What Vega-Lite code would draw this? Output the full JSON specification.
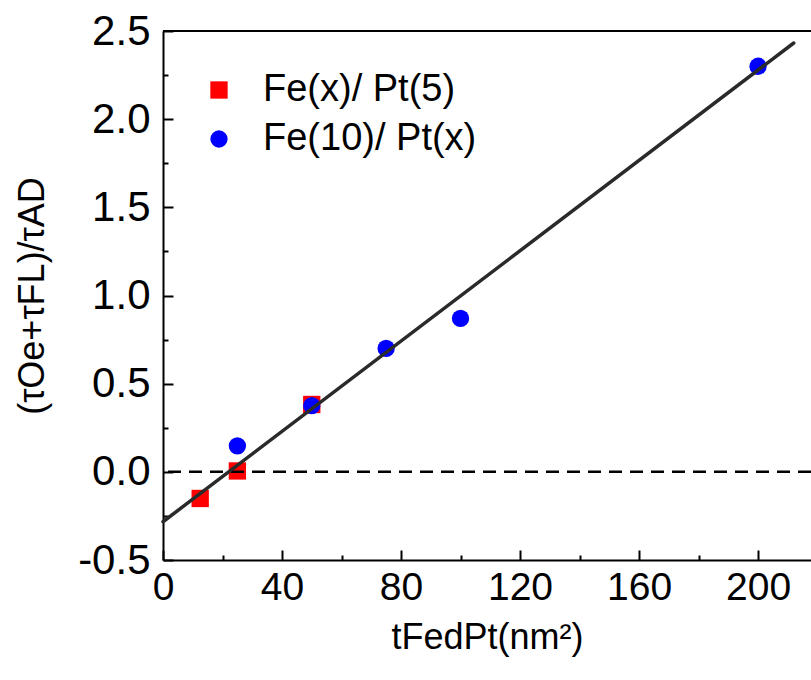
{
  "$schema": "https://vega.github.io/schema/vega-lite/v6.json",
  "width": 648,
  "height": 529,
  "autosize": {"type": "none"},
  "padding": {"left": 163, "top": 31, "right": 0, "bottom": 120},
  "background": "white",
  "config": {
    "view": {"stroke": "black", "strokeWidth": 2, "strokeDash": [648, 4000]},
    "font": "Liberation Sans",
    "axis": {
      "grid": false,
      "domainColor": "black",
      "domainWidth": 2,
      "tickColor": "black",
      "tickWidth": 2,
      "labelColor": "black",
      "titleColor": "black",
      "labelFont": "Liberation Sans",
      "titleFont": "Liberation Sans",
      "titleFontWeight": "normal"
    }
  },
  "resolve": {"axis": {"x": "independent", "y": "independent"}},
  "layer": [
    {
      "data": {
        "values": [
          {"series": "Fe(x)/ Pt(5)", "x": 12.5, "y": -0.151},
          {"series": "Fe(x)/ Pt(5)", "x": 25, "y": 0.005},
          {"series": "Fe(x)/ Pt(5)", "x": 50, "y": 0.382},
          {"series": "Fe(10)/ Pt(x)", "x": 25, "y": 0.147},
          {"series": "Fe(10)/ Pt(x)", "x": 50, "y": 0.375},
          {"series": "Fe(10)/ Pt(x)", "x": 75, "y": 0.70},
          {"series": "Fe(10)/ Pt(x)", "x": 100, "y": 0.87},
          {"series": "Fe(10)/ Pt(x)", "x": 200, "y": 2.30}
        ]
      },
      "mark": {"type": "point", "filled": true, "opacity": 1, "size": 300},
      "encoding": {
        "x": {
          "field": "x",
          "type": "quantitative",
          "scale": {"domain": [0, 217.8], "nice": false, "zero": false},
          "axis": {
            "orient": "bottom",
            "values": [0, 40, 80, 120, 160, 200],
            "format": "d",
            "tickSize": -10,
            "labelFontSize": 39,
            "labelPadding": 18,
            "labelFlush": false,
            "labelOverlap": false,
            "title": "tFedPt(nm²)",
            "titleFontSize": 36,
            "titlePadding": 13
          }
        },
        "y": {
          "field": "y",
          "type": "quantitative",
          "scale": {"domain": [-0.5, 2.5], "nice": false, "zero": false},
          "axis": {
            "orient": "left",
            "values": [-0.5, 0, 0.5, 1, 1.5, 2, 2.5],
            "labelExpr": "replace(format(datum.value, '.1f'), '\u2212', '-')",
            "tickSize": -10,
            "labelFontSize": 42,
            "labelPadding": 23,
            "labelOverlap": false,
            "labelFlush": false,
            "title": "(τOe+τFL)/τAD",
            "titleFontSize": 36,
            "titlePadding": 26
          }
        },
        "color": {
          "field": "series",
          "type": "nominal",
          "scale": {"domain": ["Fe(x)/ Pt(5)", "Fe(10)/ Pt(x)"], "range": ["#ff0000", "#0000ff"]},
          "legend": {
            "orient": "none",
            "legendX": 37,
            "legendY": 40,
            "title": null,
            "padding": 0,
            "symbolSize": 300,
            "symbolStrokeWidth": 0,
            "labelFontSize": 38,
            "labelFont": "Liberation Sans",
            "labelColor": "black",
            "labelOffset": 25,
            "rowPadding": 11,
            "labelLimit": 400
          }
        },
        "shape": {
          "field": "series",
          "type": "nominal",
          "scale": {"domain": ["Fe(x)/ Pt(5)", "Fe(10)/ Pt(x)"], "range": ["square", "circle"]},
          "legend": {
            "orient": "none",
            "legendX": 37,
            "legendY": 40,
            "title": null,
            "padding": 0,
            "symbolSize": 300,
            "symbolStrokeWidth": 0,
            "labelFontSize": 38,
            "labelFont": "Liberation Sans",
            "labelColor": "black",
            "labelOffset": 25,
            "rowPadding": 11,
            "labelLimit": 400
          }
        }
      }
    },
    {
      "data": {"values": [{"y": 0}]},
      "mark": {"type": "rule", "color": "black", "strokeWidth": 2.5, "strokeDash": [13, 8]},
      "encoding": {
        "y": {
          "field": "y",
          "type": "quantitative",
          "axis": {
            "orient": "left",
            "values": [-0.25, 0.25, 0.75, 1.25, 1.75, 2.25],
            "tickSize": -5,
            "labels": false,
            "domain": false,
            "title": null
          }
        }
      }
    },
    {
      "data": {
        "values": [
          {"x": 0, "y": -0.283},
          {"x": 212, "y": 2.432}
        ]
      },
      "mark": {"type": "line", "color": "#2a2a2a", "strokeWidth": 3.5, "strokeCap": "round"},
      "encoding": {
        "x": {
          "field": "x",
          "type": "quantitative",
          "axis": {
            "orient": "bottom",
            "values": [20, 60, 100, 140, 180],
            "tickSize": -5,
            "labels": false,
            "domain": false,
            "title": null
          }
        },
        "y": {"field": "y", "type": "quantitative", "axis": null}
      }
    }
  ]
}
